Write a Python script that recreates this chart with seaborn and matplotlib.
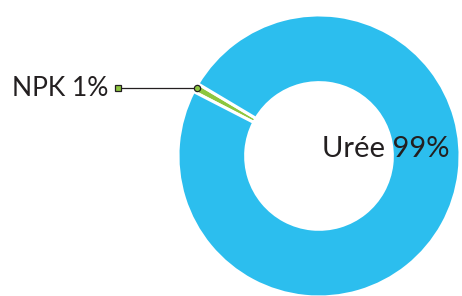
import numpy as np
import matplotlib
matplotlib.use("Agg")
import matplotlib.pyplot as plt
import seaborn as sns

labels = ["NPK", "Urée"]
shares = [1, 99]
colors = ["#8DC63F", "#2CBEEE"]

sns.set_theme(style="white")
plt.rcParams["font.family"] = ["Lato", "DejaVu Sans"]

fig = plt.figure(figsize=(4.62, 2.96), dpi=100)
ax = fig.add_axes([0, 0, 1, 1])

start = 149.2
ax.pie(shares, colors=colors, startangle=start, counterclock=True,
       radius=1.0, wedgeprops=dict(width=0.48, edgecolor="white", linewidth=2.2))

# leader line for the small slice
mid = np.deg2rad(start + 360 * shares[0] / sum(shares) / 2)
px, py = 0.99 * np.cos(mid), 0.99 * np.sin(mid)
ax.plot([-1.426, px], [py, py], color="#231F20", lw=0.9, zorder=5)
ax.plot(px, py, "o", ms=4.5, mfc=colors[0], mec="#231F20", mew=0.9, zorder=6)
ax.plot(-1.426, py, "s", ms=4, mfc=colors[0], mec="#231F20", mew=0.9, zorder=6)
ax.text(-1.49, py - 0.005, f"{labels[0]} {shares[0]}%", ha="right", va="center",
        fontsize=19, color="#231F20")

ax.text(0.47, -0.005, f"{labels[1]} {shares[1]}%", ha="center", va="baseline",
        fontsize=21, color="#231F20")

ax.set_xlim(-2.262, 1.014)
ax.set_ylim(-0.993, 1.106)
ax.set_aspect("auto")
ax.axis("off")

fig.savefig("out.png", dpi=100)
